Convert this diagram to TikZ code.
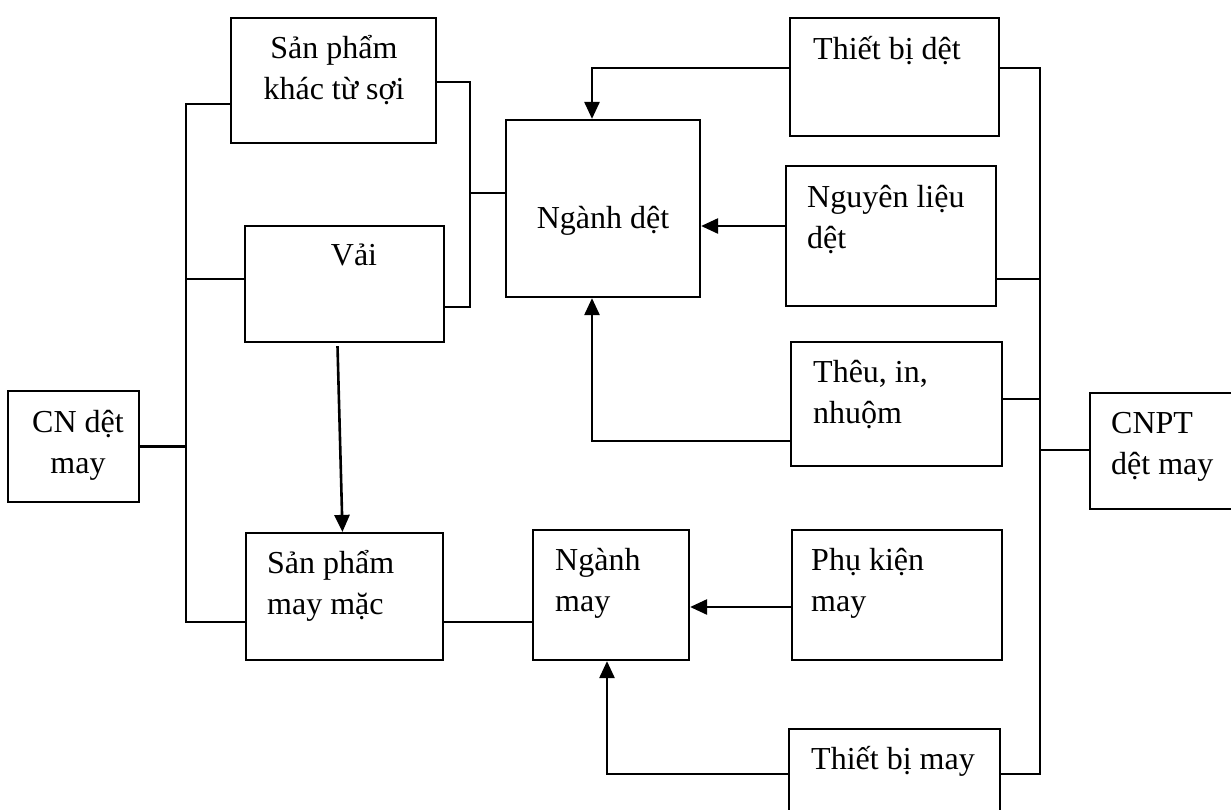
\documentclass[tikz,border=0pt]{standalone}
\usepackage{fontspec}
\setmainfont{Liberation Serif}
\usetikzlibrary{arrows.meta,positioning,calc}

\begin{document}
\begin{tikzpicture}[x=1pt,y=-1pt,>={Triangle[length=17pt,width=15pt]},
  box/.style={draw,line width=2.2pt,inner sep=0pt},
  txt/.style={inner sep=0pt,font=\fontsize{32}{41}\selectfont},
  link/.style={line width=2.2pt},
  arr/.style={->,line width=2.6pt}]
  \useasboundingbox (0,0) rectangle (1231,809);

  % các khung
  \node[box,minimum width=131pt,minimum height=111pt] (cn) at (73.5,446.5) {};
  \node[box,minimum width=205pt,minimum height=125pt] (spk) at (333.5,80.5) {};
  \node[box,minimum width=199pt,minimum height=116pt] (vai) at (344.5,284) {};
  \node[box,minimum width=197pt,minimum height=127pt] (spmm) at (344.5,596.5) {};
  \node[box,minimum width=194pt,minimum height=177pt] (ndet) at (603,208.5) {};
  \node[box,minimum width=156pt,minimum height=130pt] (nmay) at (611,595) {};
  \node[box,minimum width=209pt,minimum height=118pt] (tbd) at (894.5,77) {};
  \node[box,minimum width=210pt,minimum height=140pt] (nl) at (891,236) {};
  \node[box,minimum width=211pt,minimum height=124pt] (theu) at (896.5,404) {};
  \node[box,minimum width=210pt,minimum height=130pt] (pk) at (897,595) {};
  \node[box,minimum width=211pt,minimum height=90pt] (tbm) at (894.5,774) {};
  \node[box,minimum width=150pt,minimum height=116pt] (cnpt) at (1165,451) {};

  % chữ trong khung (base = dòng cuối)
  \node[txt,align=center,anchor=base] (cn-t) at (78,473) {CN dệt\\may};
  \node[txt,align=center,anchor=base] (spk-t) at (334,99) {Sản phẩm\\khác từ sợi};
  \node[txt,anchor=base] (vai-t) at (354,265) {Vải};
  \node[txt,align=left,anchor=base west] (spmm-t) at (267,614) {Sản phẩm\\may mặc};
  \node[txt,anchor=base] (ndet-t) at (603,228) {Ngành dệt};
  \node[txt,align=left,anchor=base west] (nmay-t) at (555,611) {Ngành\\may};
  \node[txt,anchor=base west] (tbd-t) at (813,59) {Thiết bị dệt};
  \node[txt,align=left,anchor=base west] (nl-t) at (807,248) {Nguyên liệu\\dệt};
  \node[txt,align=left,anchor=base west] (theu-t) at (813,423) {Thêu, in,\\nhuộm};
  \node[txt,align=left,anchor=base west] (pk-t) at (811,611) {Phụ kiện\\may};
  \node[txt,anchor=base west] (tbm-t) at (811,769) {Thiết bị may};
  \node[txt,align=left,anchor=base west] (cnpt-t) at (1111,474) {CNPT\\dệt may};

  % trục bên trái
  \coordinate (b1) at (186,104);
  \coordinate (b2) at (186,279);
  \coordinate (b3) at (186,450);
  \coordinate (b4) at (186,622);
  \draw[link] (b1 -| spk.west) -- (b1) -- (b4) -- (b4 -| spmm.west);
  \draw[link] (b2) -- (b2 -| vai.west);
  \draw[link] (cn.east) -- (cn.east -| b3);

  % ngoặc nối vào ngành dệt
  \coordinate (k1) at (470,82);
  \coordinate (k2) at (470,193);
  \coordinate (k3) at (470,307);
  \draw[link] (k1 -| spk.east) -- (k1) -- (k3) -- (k3 -| vai.east);
  \draw[link] (k2) -- (k2 -| ndet.west);

  % mũi tên vào ngành dệt
  \coordinate (a1) at (592,68);
  \coordinate (a2) at (592,441);
  \coordinate (a3) at (743,226);
  \draw[arr] (a1 -| tbd.west) -- (a1) -- (a1 |- ndet.north);
  \draw[arr] (a2 -| theu.west) -- (a2) -- (a2 |- ndet.south);
  \draw[arr] (a3 -| nl.west) -- (a3 -| ndet.east);

  % ngành may
  \coordinate (m1) at (607,607);
  \coordinate (m2) at (607,774);
  \draw[arr] (m1 -| pk.west) -- (m1 -| nmay.east);
  \draw[arr] (m2 -| tbm.west) -- (m2) -- (m2 |- nmay.south);
  \draw[link] (b4 -| spmm.east) -- (b4 -| nmay.west);
  \draw[arr] ([xshift=-7pt,yshift=-3pt]vai.south) -- ([xshift=-2pt]spmm.north);

  % trục bên phải
  \coordinate (r1) at (1040,68);
  \coordinate (r2) at (1040,279);
  \coordinate (r3) at (1040,399);
  \coordinate (r4) at (1040,450);
  \coordinate (r5) at (1040,774);
  \draw[link] (r1 -| tbd.east) -- (r1) -- (r5) -- (r5 -| tbm.east);
  \draw[link] (r2 -| nl.east) -- (r2);
  \draw[link] (r3 -| theu.east) -- (r3);
  \draw[link] (r4) -- (r4 -| cnpt.west);
\end{tikzpicture}
\end{document}
